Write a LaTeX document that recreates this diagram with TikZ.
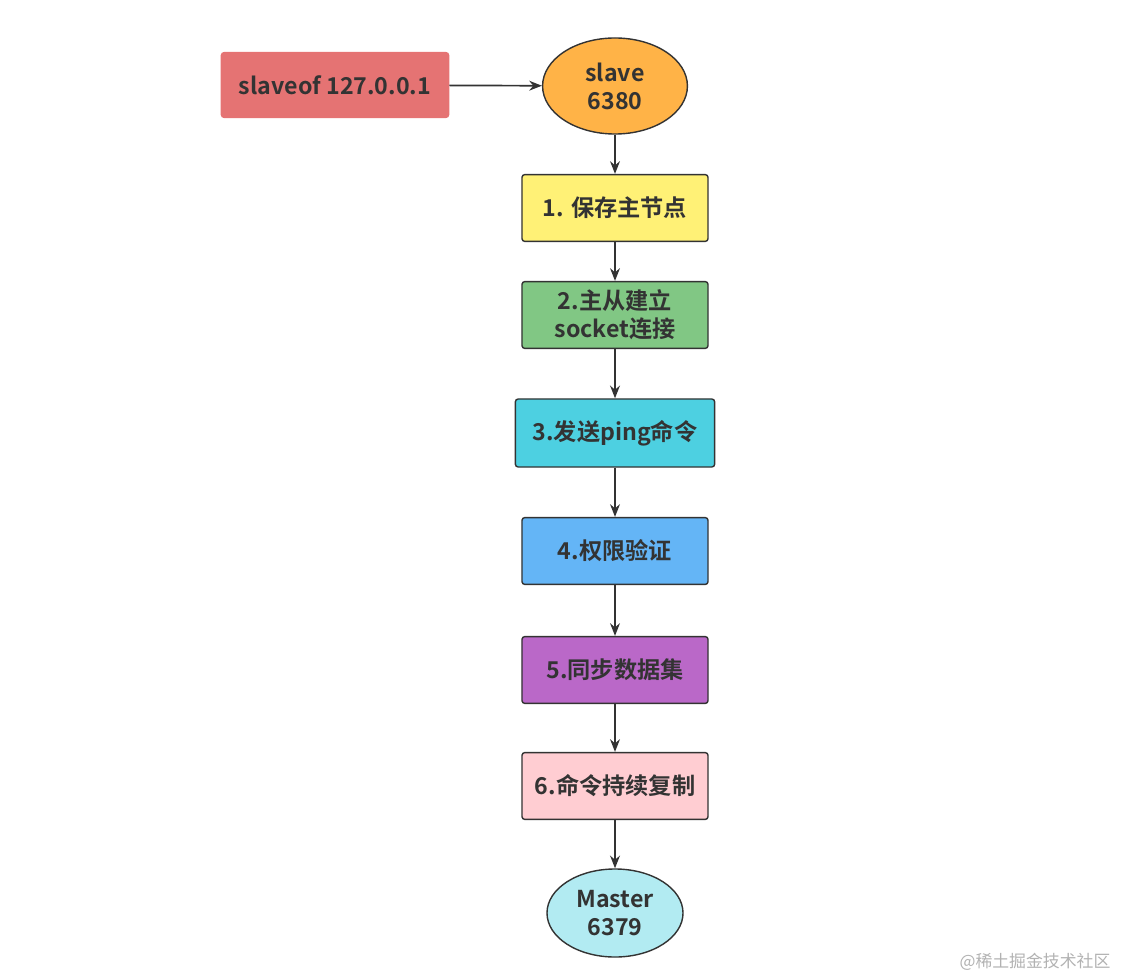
\documentclass[tikz,border=0pt]{standalone}
\usepackage{fontspec}
\setmainfont{Noto Sans CJK SC}[BoldFont={Noto Sans CJK SC Bold}]
\usetikzlibrary{shapes.geometric,arrows.meta}
\definecolor{txt}{HTML}{333333}
\definecolor{cmdred}{HTML}{E57373}
\definecolor{slaveorange}{HTML}{FFB347}
\definecolor{stepyellow}{HTML}{FFF176}
\definecolor{stepgreen}{HTML}{81C784}
\definecolor{stepcyan}{HTML}{4DD0E1}
\definecolor{stepblue}{HTML}{64B5F6}
\definecolor{steppurple}{HTML}{BA68C8}
\definecolor{steppink}{HTML}{FFCDD2}
\definecolor{masterblue}{HTML}{B2EBF2}
\tikzset{
  stepbox/.style={draw=txt, line width=1pt, rounded corners=2pt, minimum width=4.65cm,
    minimum height=1.67cm, align=center, text=txt, font=\fontsize{16.5}{20}\selectfont\bfseries},
  peer/.style={ellipse, draw=txt, line width=1pt, inner sep=0pt, align=center, text=txt,
    font=\fontsize{16.5}{20}\selectfont\bfseries},
  flow/.style={draw=txt, line width=1.2pt, -{Stealth[length=9pt,width=7pt]}}
}
\begin{document}
\begin{tikzpicture}[x=0.025cm,y=-0.025cm]
    \useasboundingbox (0,0) rectangle (1122,978);
    \node [stepbox, draw=cmdred, fill=cmdred, minimum width=5.68cm, minimum height=1.62cm] (cmd) at (335,85) {slaveof 127.0.0.1};
    \node [peer, fill=slaveorange, minimum width=3.62cm, minimum height=2.4cm] (slave) at (615,86) {slave\\6380};
    \node [stepbox, fill=stepyellow] (s1) at (615,208) {1. 保存主节点};
    \node [stepbox, fill=stepgreen] (s2) at (615,315) {2.主从建立\\socket连接};
    \node [stepbox, fill=stepcyan, minimum width=4.98cm, minimum height=1.7cm] (s3) at (615,433) {3.发送ping命令};
    \node [stepbox, fill=stepblue] (s4) at (615,551) {4.权限验证};
    \node [stepbox, fill=steppurple] (s5) at (615,670) {5.同步数据集};
    \node [stepbox, fill=steppink] (s6) at (615,786) {6.命令持续复制};
    \node [peer, fill=masterblue, minimum width=3.4cm, minimum height=2.2cm] (master) at (615,913) {Master\\6379};
    \draw [flow] (cmd) -- (slave);
    \foreach \a/\b in {slave/s1,s1/s2,s2/s3,s3/s4,s4/s5,s5/s6,s6/master}
        \draw [flow] (\a) -- (\b);
    \node [text=black!30, font=\fontsize{12}{14}\selectfont] (mark) at (1035,962) {@稀土掘金技术社区};
\end{tikzpicture}
\end{document}
